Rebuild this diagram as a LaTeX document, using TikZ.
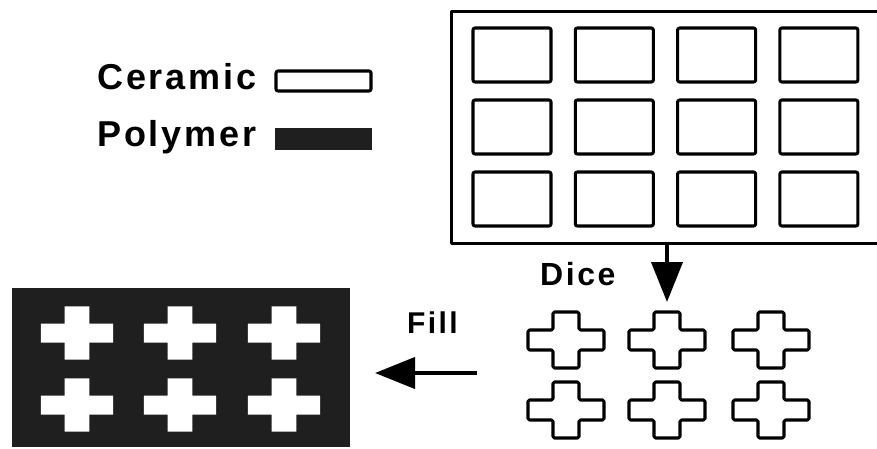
\documentclass[tikz,border=0pt]{standalone}
\usepackage{fontspec}
\setmainfont{Liberation Sans}
\newfontfamily\labelfont[LetterSpace=8]{Liberation Sans}
\usetikzlibrary{arrows.meta}

\tikzset{
  label text/.style={anchor=base west, inner sep=0pt, font=\labelfont\bfseries\fontsize{32}{36}\selectfont},
  legend text/.style={label text, font=\labelfont\bfseries\fontsize{36}{40}\selectfont},
  ceramic/.style={draw=black, fill=white, line width=3.1pt, line join=round},
  polymer/.style={fill=black!88},
  step arrow/.style={line width=4pt, -{Triangle[width=31pt,length=40pt]}},
  pics/plus/.style={code={
    \path[pic actions] (-13,-28) -- (13,-28) -- (13,-10) -- (38,-10) -- (38,10)
      -- (13,10) -- (13,28) -- (-13,28) -- (-13,10) -- (-38,10) -- (-38,-10)
      -- (-13,-10) -- cycle;
  }}
}

\begin{document}
\begin{tikzpicture}[x=1pt, y=-1pt]
  \clip (0,0) rectangle (877,449);
  \fill[white] (0,0) rectangle (877,449);

  % Legend
  \node[legend text] (ceramiclabel) at (97,90) {Ceramic};
  \node[legend text] (polymerlabel) at (97,147) {Polymer};
  \draw[ceramic, rounded corners=2pt] (276,71) rectangle (371,91);
  \fill[polymer] (275,128) rectangle (372,150);

  % Ceramic wafer with grooves cut in both directions
  \node[ceramic, minimum width=440pt, minimum height=232pt, anchor=north west,
        inner sep=0pt] (wafer) at (450,10) {};
  \foreach \i in {0,...,3}
    \foreach \j in {0,...,2}
      \draw[ceramic, rounded corners=2pt] ({473+102.3*\i},{28+72*\j})
        rectangle ++(78,54);

  % Dice
  \coordinate (dicetip) at (667,302);
  \draw[step arrow] (wafer.south -| dicetip) -- (dicetip);
  \node[label text] (dicelabel) at (540,285) {Dice};

  % Diced ceramic posts
  \foreach \cx in {566,667,771}
    \foreach \cy in {340,410}
      \pic[ceramic, rounded corners=1.5pt] at (\cx,\cy) {plus};

  % Fill
  \node[label text, font=\labelfont\bfseries\fontsize{30}{34}\selectfont]
    (filllabel) at (407,333) {Fill};
  \coordinate (fillstart) at (477,373);
  \coordinate (filltip) at (375,373);
  \draw[step arrow] (fillstart) -- (filltip);

  % Composite: polymer filled around the posts
  \node[polymer, minimum width=338pt, minimum height=159pt, anchor=north west,
        inner sep=0pt] (composite) at (12,288) {};
  \foreach \cx in {77,180,284}
    \foreach \cy in {333,405}
      \pic[fill=white, scale=0.95] at (\cx,\cy) {plus};
\end{tikzpicture}
\end{document}
